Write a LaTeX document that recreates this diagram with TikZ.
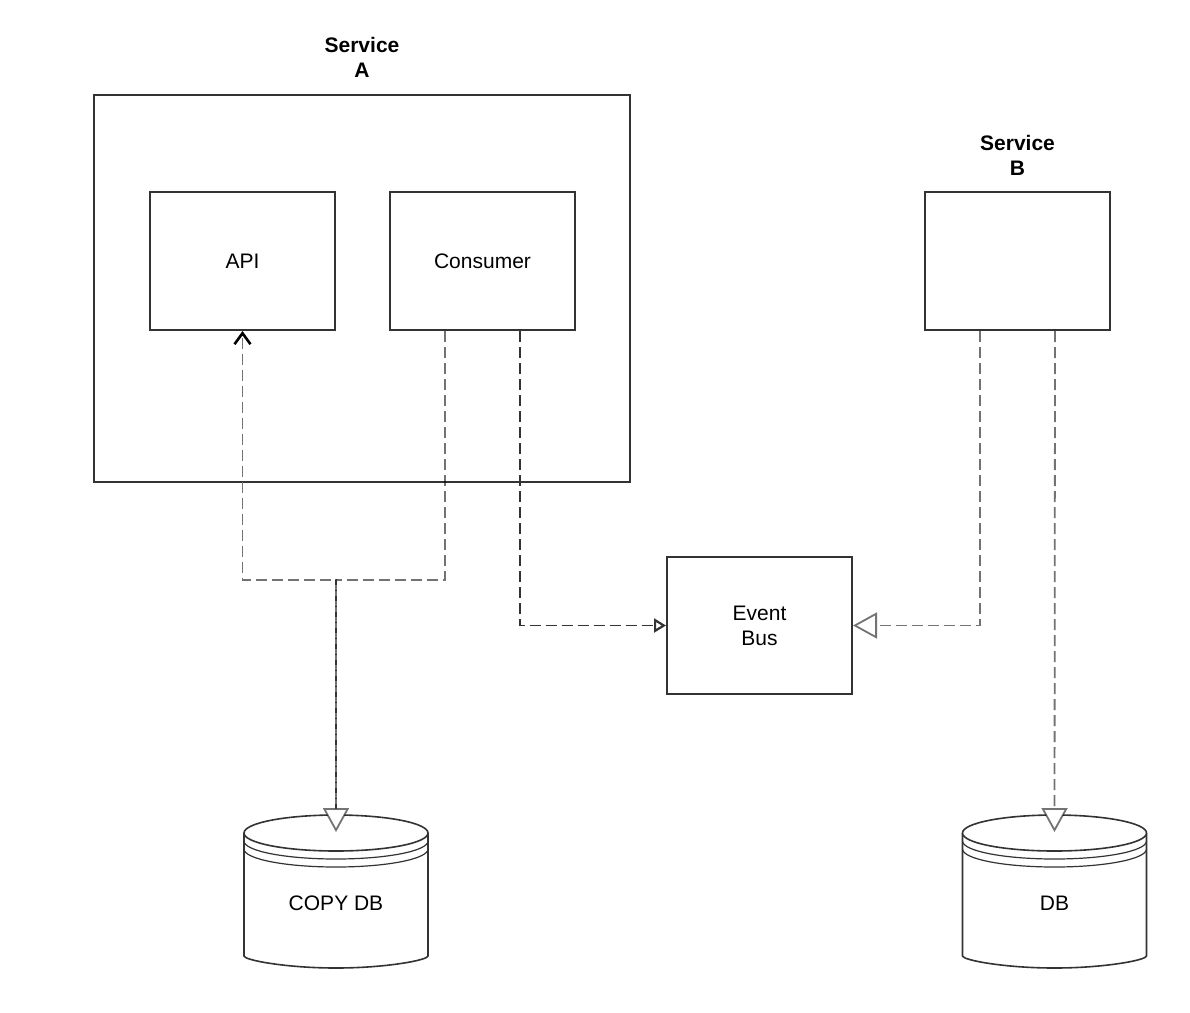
\documentclass[tikz,border=0pt]{standalone}
\usepackage{fontspec}
\setmainfont{Liberation Sans}
\usetikzlibrary{arrows.meta}
\definecolor{edgeline}{HTML}{333333}
\begin{document}
\begin{tikzpicture}[x=1pt,y=-1pt,
  font=\fontsize{21}{25}\selectfont,
  box/.style={draw=edgeline,line width=2pt,fill=white,inner sep=0pt,align=center},
  title/.style={font=\fontsize{21}{25}\selectfont\bfseries,align=center,inner sep=0pt},
  cyl/.style={draw=edgeline,line width=1.6pt,fill=white,rounded corners=6pt},
  cylthin/.style={draw=edgeline,line width=1.2pt},
  lightdash/.style={draw=black,draw opacity=0.55,line width=1.8pt,dash pattern=on 11pt off 5pt},
  greydash/.style={draw=black!55,line width=1.8pt,dash pattern=on 11pt off 5pt},
  darkdash/.style={draw=edgeline,line width=1.8pt,dash pattern=on 11pt off 5pt},
  bigtri/.style={-{Triangle[open,length=24pt,width=26pt,fill=white]}},
  smalltri/.style={-{Triangle[open,length=12pt,width=14pt,fill=white,line width=2.2pt]}},
  barb/.style={-{Straight Barb[length=11pt,width=16pt,line width=2.6pt,color=black]}}
]
\useasboundingbox (0,0) rectangle (1190,1012);

% Service A
\node[box,minimum width=536,minimum height=387] (svca) at (362,288.5) {};
\node[title] (svcatitle) at (362,57) {Service\\A};
\node[box,minimum width=185,minimum height=138] (api) at (242.5,261) {API};
\node[box,minimum width=185,minimum height=138] (consumer) at (482.5,261) {Consumer};

% Service B
\node[box,minimum width=185,minimum height=138] (svcb) at (1017.5,261) {};
\node[title] (svcbtitle) at (1017.5,155) {Service\\B};

% Event bus
\node[box,minimum width=185,minimum height=137] (eventbus) at (759.5,625.5) {Event\\Bus};

% COPY DB cylinder
\begin{scope}[shift={(336,0)}]
  \draw[cyl] (-92,833) -- (-92,950) arc[start angle=180,end angle=360,x radius=92pt,y radius=18pt] -- (92,833);
  \draw[cyl] (0,833) ellipse[x radius=92pt,y radius=18pt];
  \draw[cylthin] (-92,841) arc[start angle=180,end angle=360,x radius=92pt,y radius=18pt];
  \draw[cylthin] (-92,849) arc[start angle=180,end angle=360,x radius=92pt,y radius=18pt];
\end{scope}
\node[inner sep=0pt] (copydb) at (336,903) {COPY DB};
\coordinate (copyin) at (336,832);
\coordinate (copytop) at (336,815);

% DB cylinder
\begin{scope}[shift={(1054.5,0)}]
  \draw[cyl] (-92,833) -- (-92,950) arc[start angle=180,end angle=360,x radius=92pt,y radius=18pt] -- (92,833);
  \draw[cyl] (0,833) ellipse[x radius=92pt,y radius=18pt];
  \draw[cylthin] (-92,841) arc[start angle=180,end angle=360,x radius=92pt,y radius=18pt];
  \draw[cylthin] (-92,849) arc[start angle=180,end angle=360,x radius=92pt,y radius=18pt];
\end{scope}
\node[inner sep=0pt] (db) at (1054.5,903) {DB};
\coordinate (dbin) at (1054.5,832);

% junction coordinates
\coordinate (junc) at (336,580);

% Connectors
\draw[greydash,barb] (copytop) -- (junc) -| (api.south);
\draw[lightdash,bigtri] ([xshift=-37.5pt]consumer.south) |- (junc) -- (copyin);
\draw[darkdash,smalltri] ([xshift=37.5pt]consumer.south) |- (eventbus.west);
\draw[lightdash,bigtri] ([xshift=-37.5pt]svcb.south) |- (eventbus.east);
\draw[lightdash,bigtri] ([xshift=37.5pt]svcb.south) -- (dbin);
\end{tikzpicture}
\end{document}
